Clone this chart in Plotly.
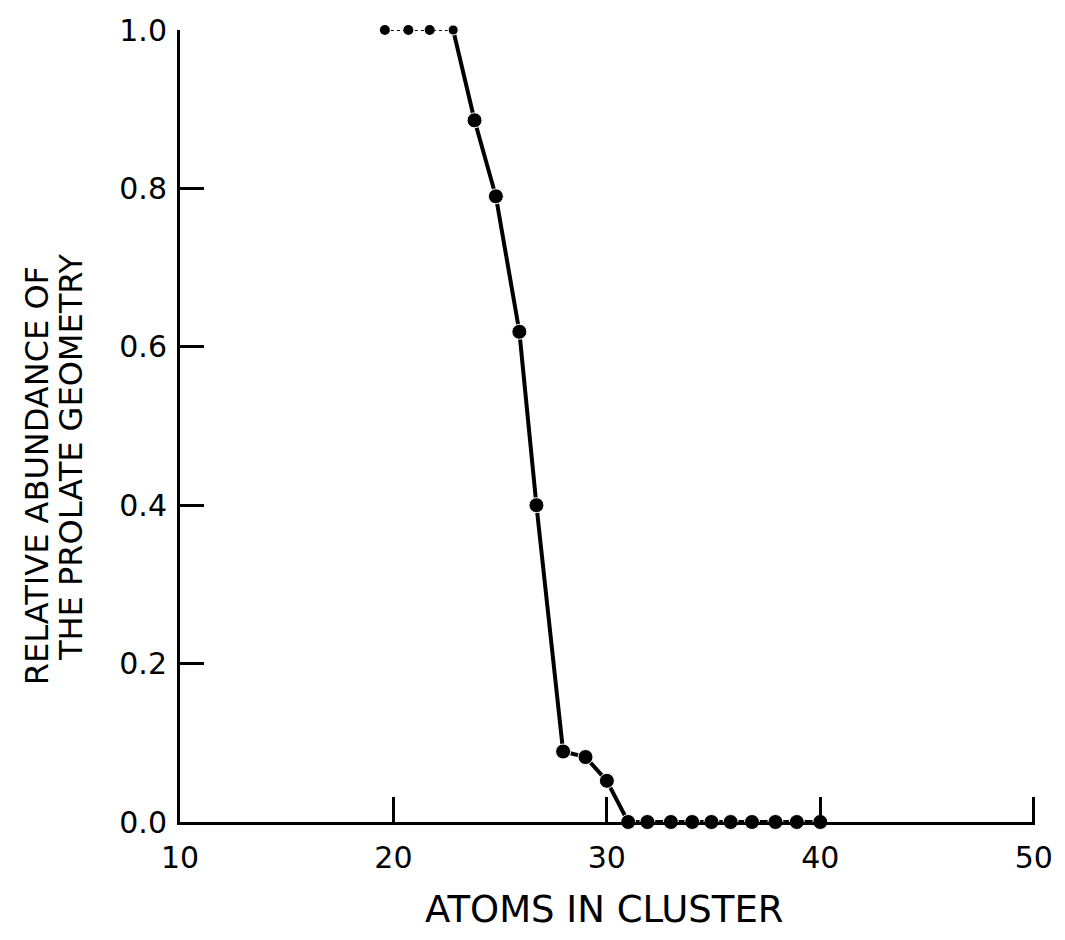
import plotly.graph_objects as go

# Data
atoms_top = [19.6, 20.7, 21.7, 22.8]
abund_top = [1.0, 1.0, 1.0, 1.0]

atoms = [22.8, 23.8, 24.8, 25.9, 26.7, 27.95, 29.0, 30.0, 31.0, 31.9, 33.0, 34.0, 34.9, 35.8, 36.8, 37.9, 38.9, 40.0]
abund = [1.0, 0.886, 0.79, 0.619, 0.40, 0.089, 0.082, 0.052, 0.0, 0.0, 0.0, 0.0, 0.0, 0.0, 0.0, 0.0, 0.0, 0.0]

x_ticks = [10, 20, 30, 40, 50]
y_ticks = [0.0, 0.2, 0.4, 0.6, 0.8, 1.0]
y_tick_text = ["0.0", "0.2", "0.4", "0.6", "0.8", "1.0"]

x_title = "ATOMS IN CLUSTER"
y_title_1 = "RELATIVE ABUNDANCE OF"
y_title_2 = "THE PROLATE GEOMETRY"

FONT = "DejaVu Sans"

W, H = 1065, 940
L, R, T, B = 180, 25, 27, 118
PW = W - L - R
PH = H - T - B


def px_x(page_x):
    return (page_x - L) / PW


def px_y(page_y):
    return 1 - (page_y - T) / PH


marker_sizes = [10] + [15] * (len(atoms) - 1)

fig = go.Figure()
fig.add_trace(go.Scatter(
    x=atoms_top, y=abund_top, mode="lines+markers",
    line=dict(color="black", width=2, dash="dot"),
    marker=dict(color="black", size=10, opacity=1),
    cliponaxis=False, showlegend=False,
))
fig.add_trace(go.Scatter(
    x=atoms, y=abund, mode="lines+markers",
    line=dict(color="black", width=4),
    marker=dict(color="black", size=marker_sizes, opacity=1),
    cliponaxis=False, showlegend=False,
))

fig.update_layout(
    width=W, height=H,
    margin=dict(l=L, r=R, t=T, b=B),
    plot_bgcolor="white", paper_bgcolor="white",
    font=dict(family=FONT, color="black", size=30),
    xaxis=dict(
        range=[10, 50.06], tickvals=x_ticks, ticktext=[str(v) for v in x_ticks],
        ticks="inside", ticklen=25, tickwidth=2.5, tickcolor="black",
        showline=True, linecolor="black", linewidth=3,
        showgrid=False, zeroline=False, ticklabeloverflow="allow",
        tickfont=dict(family=FONT, size=30), ticklabelstandoff=7,
    ),
    yaxis=dict(
        range=[0, 1], tickvals=y_ticks, ticktext=y_tick_text,
        ticks="inside", ticklen=24, tickwidth=2.5, tickcolor="black",
        showline=True, linecolor="black", linewidth=3,
        showgrid=False, zeroline=False, ticklabeloverflow="allow",
        tickfont=dict(family=FONT, size=30), ticklabelstandoff=4,
    ),
    annotations=[
        dict(text=x_title, xref="paper", yref="paper", x=px_x(607), y=px_y(910),
             xanchor="center", yanchor="middle", showarrow=False,
             font=dict(family=FONT, size=37)),
        dict(text=y_title_1, xref="paper", yref="paper", x=px_x(36), y=px_y(474),
             xanchor="center", yanchor="middle", showarrow=False, textangle=-90,
             font=dict(family=FONT, size=32)),
        dict(text=y_title_2, xref="paper", yref="paper", x=px_x(71), y=px_y(456),
             xanchor="center", yanchor="middle", showarrow=False, textangle=-90,
             font=dict(family=FONT, size=32)),
    ],
)

fig.write_html(
    "out.html",
    config={"displayModeBar": False},
    post_script="document.body.style.margin='0px';document.body.style.overflow='hidden';",
)
